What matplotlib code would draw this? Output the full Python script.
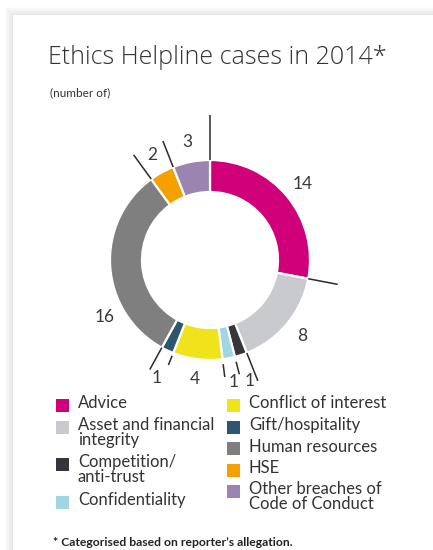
"""Ethics Helpline cases in 2014 - donut chart with leader lines."""

import matplotlib.pyplot as plt
import numpy as np
from matplotlib.patches import Rectangle

plt.switch_backend("Agg")
plt.rcParams["font.family"] = ["Lato", "DejaVu Sans"]

categories = [
    "Advice",
    "Asset and financial\nintegrity",
    "Competition/\nanti-trust",
    "Confidentiality",
    "Conflict of interest",
    "Gift/hospitality",
    "Human resources",
    "HSE",
    "Other breaches of\nCode of Conduct",
]
cases = [14, 8, 1, 1, 4, 1, 16, 2, 3]
colors = ["#cf007a", "#c9cacd", "#35363b", "#9fd6e2", "#efe41c",
          "#2f5671", "#7f7f7f", "#f4a000", "#9c84b0"]

# figure is laid out in pixel units (y up), 433 x 550
W, H = 433, 550
CX, CY = 210, H - 260
R_OUT, R_IN = 100, 68
TEXT = "#3a3a3a"

# leader line (inner, outer) radius at the start boundary of each wedge
leader_r = [(100, 145), (100, 130), (100, 130), (105, 118), (105, 118),
            (103, 113), (100, 125), (100, 130), (100, 128)]
# value label placement: default mid-angle at radius 120, a few nudged
label_tweak = {2: (None, 127), 3: (None, 124), 5: (-1, 129), 6: (241.5, 120)}

fig = plt.figure(figsize=(W / 100, H / 100), dpi=100)
fig.patch.set_facecolor("white")

# card with a soft shadow on the top/left
for k in range(8, 0, -1):
    fig.patches.append(Rectangle(((13 - k) / W, 0), 1, (H - 15 + k) / H,
                                 transform=fig.transFigure, facecolor="#000000",
                                 alpha=0.012, edgecolor="none", zorder=-10))
fig.patches.append(Rectangle((13 / W, 0), 1, (H - 15) / H, transform=fig.transFigure,
                             facecolor="white", edgecolor="none", zorder=-9))

ax = fig.add_axes([0, 0, 1, 1])
ax.set_zorder(1)
ax.patch.set_alpha(0)

ax.pie(cases, colors=colors, startangle=90, counterclock=False,
       radius=R_OUT, center=(CX, CY),
       wedgeprops=dict(width=R_OUT - R_IN, edgecolor="white", linewidth=1.6))
ax.set_xlim(0, W)
ax.set_ylim(0, H)
ax.set_aspect("equal")
ax.axis("off")


def polar(theta_deg, r):
    t = np.radians(theta_deg)
    return CX + r * np.sin(t), CY + r * np.cos(t)


total = sum(cases)
starts = np.concatenate([[0], np.cumsum(cases)[:-1]]) / total * 360
spans = np.array(cases) / total * 360

for i, (start, span) in enumerate(zip(starts, spans)):
    r0, r1 = leader_r[i]
    x0, y0 = polar(start, r0)
    x1, y1 = polar(start, r1)
    ax.plot([x0, x1], [y0, y1], color="#2b2b2b", lw=1.1, solid_capstyle="butt")

    ang, rad = start + span / 2, 120
    if i in label_tweak:
        a, r = label_tweak[i]
        if a is not None:
            ang = a if a > 0 else ang + a
        rad = r
    lx, ly = polar(ang, rad)
    ax.text(lx, ly, str(cases[i]), ha="center", va="center",
            fontsize=12.5, color=TEXT)

ax.text(48, H - 58, "Ethics Helpline cases in 2014*", fontsize=18,
        family=["Open Sans", "Lato"], fontweight="light", color="#333333",
        va="center", ha="left")
ax.text(50, H - 93, "(number of)", fontsize=8.5, color="#333333",
        va="center", ha="left")

# legend, two columns, drawn by hand
col_x = [56, 227]
split = 4
y_top = H - 398
for col, idx in enumerate([range(0, split), range(split, len(categories))]):
    y = y_top
    for i in idx:
        ax.add_patch(Rectangle((col_x[col], y - 14), 13, 13,
                               facecolor=colors[i], edgecolor="none"))
        ax.text(col_x[col] + 22, y + 2.5, categories[i], fontsize=12,
                color="#333333", va="top", ha="left", linespacing=0.92)
        y -= 21.5 + 16 * categories[i].count("\n")

ax.text(53, H - 542, "* Categorised based on reporter\u2019s allegation.",
        fontsize=8.7, fontweight="bold", color="#222222",
        va="center", ha="left")

fig.savefig("out.png", dpi=100)
